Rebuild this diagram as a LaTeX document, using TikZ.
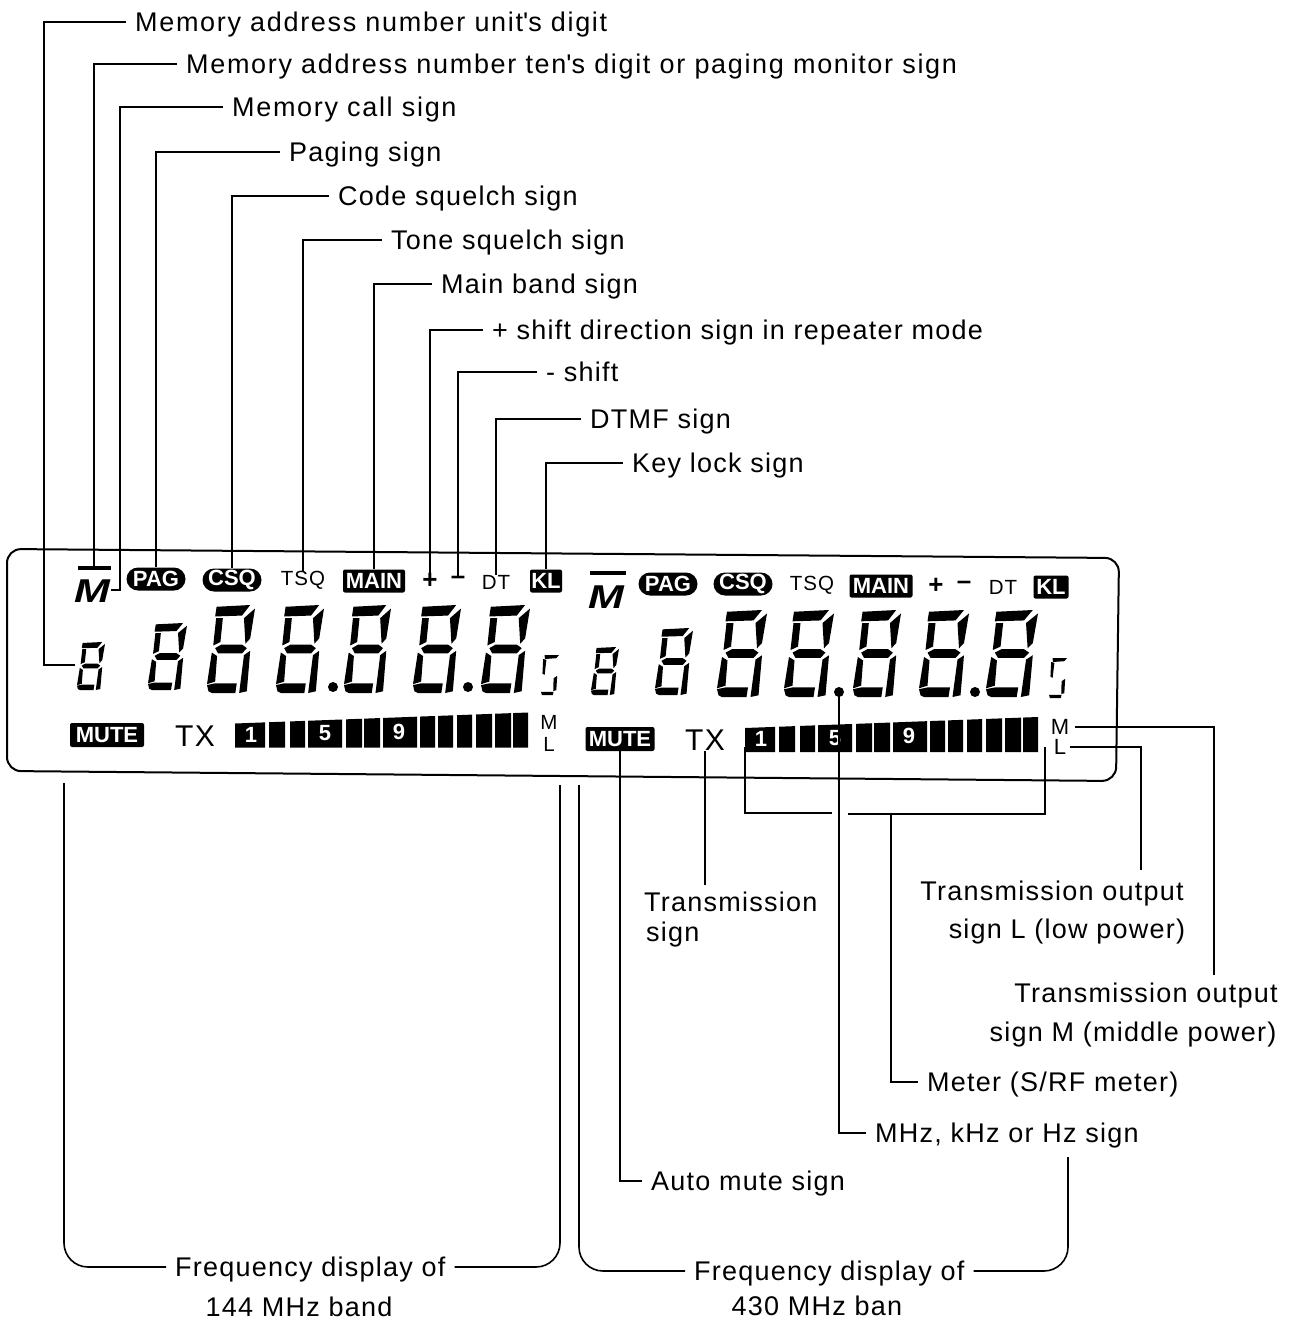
\documentclass[tikz,border=0pt]{standalone}
\usepackage{fontspec}
\setmainfont{Liberation Sans}[LetterSpace=4.6]
\newfontfamily\iconfam{Liberation Sans}
\newfontfamily\memfam{Liberation Sans}[LetterSpace=6.2]
\usetikzlibrary{shapes.misc}
\newcommand{\lblfont}{\fontsize{27}{30}\selectfont}
\newcommand{\iconfont}{\iconfam\fontsize{22}{24}\selectfont\bfseries}
\newcommand{\lcdfont}{\fontsize{20.5}{22}\selectfont}
\tikzset{
  lead/.style={line width=1.6pt},
  lbl/.style={anchor=west,font=\lblfont,inner xsep=9pt,inner ysep=0pt,text height=19pt,text depth=0pt},
  lblwide/.style={lbl,font=\memfam\lblfont},
  pill/.style={rounded rectangle,fill=black,text=white,font=\iconfont,inner sep=0pt,minimum width=59pt,minimum height=23pt},
  boxed/.style={rectangle,rounded corners=2pt,fill=black,text=white,font=\iconfont,inner sep=0pt,minimum height=23pt},
  lcd/.style={font=\lcdfont,inner sep=0pt},
  segdigit/.pic={
    \fill (.2,.98) -- (.9,1) -- (.73,.88) -- (.17,.87) -- cycle;
    \fill (.19,.85) -- (.33,.85) -- (.28,.58) -- (.13,.54) -- cycle;
    \fill (.77,.85) -- (1,.96) -- (.9,.62) -- (.8,.56) -- cycle;
    \fill (.17,.51) -- (.3,.55) -- (.73,.55) -- (.83,.51) -- (.73,.45) -- (.23,.45) -- cycle;
    \fill (.1,.46) -- (.21,.42) -- (.17,.13) -- (0,.1) -- cycle;
    \fill (.77,.43) -- (.9,.48) -- (.83,.02) -- (.67,0) -- cycle;
    \fill (0,.09) -- (.17,.11) -- (.62,.11) -- (.59,0) -- (.1,0) -- (.03,.02) -- cycle;
  },
  segfive/.pic={
    \fill (.2,1) -- (1,1) -- (.85,.92) -- (.22,.9) -- cycle;
    \fill (.12,.9) -- (.3,.88) -- (.2,.5) -- (.08,.54) -- cycle;
    \fill (.7,.42) -- (.9,.48) -- (.85,.12) -- (.68,.1) -- cycle;
    \fill (0,.08) -- (.7,.08) -- (.65,0) -- (.05,0) -- cycle;
  },
  meterbars/.pic={
    \foreach \xa/\xb in {745/775,779/795,800/815,818/852,856/872,874/890,893/927,930/945,948/963,967/982,986/1002,1005/1021,1023/1038}
      \fill (\xa,{728-(\xa-745)*11/293}) -- (\xb,{728-(\xb-745)*11/293}) -- (\xb,752) -- (\xa,752) -- cycle;
    \node[lcd,text=white,font=\iconfont] at (761,739) {1};
    \node[lcd,text=white,font=\iconfont] at (835,738) {5};
    \node[lcd,text=white,font=\iconfont] at (909,736) {9};
  }
}
\begin{document}
\begin{tikzpicture}[x=1pt,y=-1pt]
\useasboundingbox (0,0) rectangle (1298,1323);
\draw[line width=2pt,rounded corners=14pt] (7,549) -- (1119,558) -- (1116,781) -- (7,771) -- cycle;

\node[lblwide] (lbUnit) at (126,22) {Memory address number unit\textquotesingle s digit};
\node[lblwide] (lbTen) at (177,64) {Memory address number ten\textquotesingle s digit or paging monitor sign};
\node[lblwide] (lbCall) at (223,107) {Memory call sign};
\node[lbl] (lbPag) at (280,152) {Paging sign};
\node[lbl] (lbCsq) at (329,196) {Code squelch sign};
\node[lbl] (lbTsq) at (382,240) {Tone squelch sign};
\node[lbl] (lbMain) at (432,284) {Main band sign};
\node[lbl] (lbPlus) at (483,330) {+ shift direction sign in repeater mode};
\node[lbl] (lbMinus) at (537,372) {- shift};
\node[lbl] (lbDt) at (581,419) {DTMF sign};
\node[lbl] (lbKl) at (623,463) {Key lock sign};

\node[fill=black,inner sep=0pt,minimum width=33pt,minimum height=4pt] (icBar) at (94,568) {};
\node[font=\fontsize{33}{33}\selectfont\bfseries\itshape,inner sep=0pt,text height=24pt,text depth=0pt,minimum width=37pt] (icM) at (92,590) {\scalebox{1.3}[1]{M}};
\node[pill] (icPag) at (156,579) {PAG};
\node[pill] (icCsq) at (232,580) {CSQ};
\node[lcd] (icTsq) at (303,580) {TSQ};
\node[boxed,minimum width=62pt] (icMain) at (374,581) {MAIN};
\node[lcd,font=\fontsize{26}{26}\selectfont\bfseries] (icPlus) at (430,581) {+};
\node[lcd,font=\fontsize{26}{26}\selectfont\bfseries] (icMinus) at (458,581) {\raisebox{1pt}{--}};
\node[lcd] (icDt) at (496,582) {DT};
\node[boxed,minimum width=32pt] (icKl) at (546,581) {KL};
\node[boxed,minimum width=74pt,minimum height=24pt] (icMute) at (107,735) {MUTE};
\node[lcd,font=\fontsize{30}{30}\selectfont] (icTx) at (195,736) {TX};
\node[lcd] (icM2) at (549,722) {M};
\node[lcd] (icL2) at (549,744) {L};

\node[fill=black,inner sep=0pt,minimum width=36pt,minimum height=4pt] (rtBar) at (608,573) {};
\node[font=\fontsize{33}{33}\selectfont\bfseries\itshape,inner sep=0pt,text height=24pt,text depth=0pt,minimum width=37pt] (rtM) at (606,596) {\scalebox{1.3}[1]{M}};
\node[pill] (rtPag) at (668,584) {PAG};
\node[pill] (rtCsq) at (743,584) {CSQ};
\node[lcd] (rtTsq) at (812,585) {TSQ};
\node[boxed,minimum width=63pt] (rtMain) at (881,586) {MAIN};
\node[lcd,font=\fontsize{26}{26}\selectfont\bfseries] (rtPlus) at (936,586) {+};
\node[lcd,font=\fontsize{26}{26}\selectfont\bfseries] (rtMinus) at (964,586) {\raisebox{1pt}{--}};
\node[lcd] (rtDt) at (1003,587) {DT};
\node[boxed,minimum width=35pt] (rtKl) at (1051,587) {KL};
\node[boxed,minimum width=69pt,minimum height=24pt] (rtMute) at (620,739) {MUTE};
\node[lcd,font=\fontsize{30}{30}\selectfont] (rtTx) at (705,740) {TX};
\node[lcd,font=\fontsize{22}{22}\selectfont] (rtM2) at (1060,727) {M};
\node[lcd,font=\fontsize{22}{22}\selectfont] (rtL2) at (1060,747) {L};

\foreach \px/\py/\w/\h in {77/690/28/48,148/690/39/67,207/693/48/88,276/693/48/88,344/693/47/88,413/693/48/88,481/693/49/88,
    591/695/28/48,655/695/38/67,717/697/50/87,784/697/50/87,853/697/48/87,919/697/50/87,986/697/52/87}
  \pic[shift={(\px,\py)},xscale=\w,yscale=-\h] {segdigit};
\foreach \px/\py in {541/695,1049/698}
  \pic[shift={(\px,\py)},xscale=18,yscale=-40] {segfive};
\foreach \px/\py in {333/687,468/687,839/692,975/692}
  \fill (\px,\py) circle (5pt);
\pic {meterbars};
\pic[shift={(-510,-4.5)}] {meterbars};

\coordinate (dgUnit) at (75,665);
\coordinate (cUnit) at (44,665);
\coordinate (cCall) at (120,590);
\coordinate (f144L) at (64,783);
\coordinate (f144R) at (560,785);
\coordinate (f430L) at (579,785);
\coordinate (f430R) at (1068,1157);
\coordinate (dotHz) at (839,695);
\coordinate (mtL) at (745,747);
\coordinate (mtR) at (1045,747);
\coordinate (mtA) at (832,813);
\coordinate (mtB) at (848,814);
\coordinate (mtC) at (891,814);
\coordinate (cTx) at (705,885);
\coordinate (cOutL) at (1141,870);
\coordinate (cOutM) at (1214,975);
\coordinate (stL) at (1070,747);
\coordinate (stM) at (1075,727);

\draw[lead] (lbUnit.west) -| (cUnit) -- (dgUnit);
\draw[lead] (lbTen.west) -| (icBar.north);
\draw[lead] (lbCall.west) -| (cCall) -- (icM.east);
\draw[lead] (lbPag.west) -| (icPag.north);
\draw[lead] (lbCsq.west) -| (icCsq.north);
\draw[lead] (lbTsq.west) -| (icTsq.north);
\draw[lead] (lbMain.west) -| (icMain.north);
\draw[lead] (lbPlus.west) -| (icPlus.north);
\draw[lead] (lbMinus.west) -| (icMinus.north);
\draw[lead] (lbDt.west) -| (icDt.north);
\draw[lead] (lbKl.west) -| (icKl.north);

\node[lbl] (lbFreqA) at (166,1267) {Frequency display of};
\node[lbl,anchor=center] (lbBandA) at (299,1307) {144 MHz band};
\node[lbl] (lbFreqB) at (685,1271) {Frequency display of};
\node[lbl,anchor=center] (lbBandB) at (817,1306) {430 MHz ban};
\node[lbl] (lbHz) at (866,1133) {MHz, kHz or Hz sign};
\node[lbl] (lbMeter) at (918,1082) {Meter (S/RF meter)};
\node[lbl] (lbMute) at (642,1181) {Auto mute sign};
\node[lbl,anchor=north west] (lbTx) at (635,892) {Transmission};
\node[lbl,anchor=north west] (lbTxB) at (637,922) {sign};
\node[lbl,anchor=north] (lbOutL) at (1052,881) {Transmission output};
\node[lbl,anchor=north] (lbOutLb) at (1067,919) {sign L (low power)};
\node[lbl,anchor=north] (lbOutM) at (1146,983) {Transmission output};
\node[lbl,anchor=north] (lbOutMb) at (1133,1022) {sign M (middle power)};

\draw[lead,rounded corners=24pt] (f144L) |- (lbFreqA.west);
\draw[lead,rounded corners=24pt] (lbFreqA.east) -| (f144R);
\draw[lead,rounded corners=24pt] (f430L) |- (lbFreqB.west);
\draw[lead,rounded corners=24pt] (lbFreqB.east) -| (f430R);
\draw[lead] (dotHz) |- (lbHz.west);
\draw[lead] (mtL) |- (mtA);
\draw[lead] (mtB) -| (mtR);
\draw[lead] (mtC) |- (lbMeter.west);
\draw[lead] (rtMute.south) |- (lbMute.west);
\draw[lead] (rtTx.south) -- (cTx);
\draw[lead] (stL) -| (cOutL);
\draw[lead] (stM) -| (cOutM);
\end{tikzpicture}
\end{document}
